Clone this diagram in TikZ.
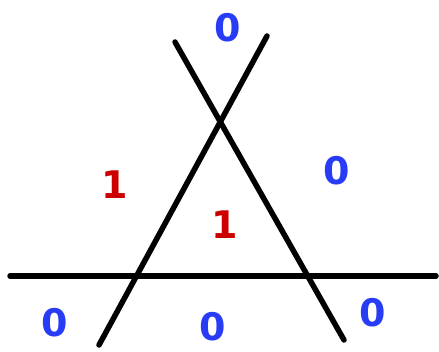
\documentclass[tikz,border=0pt]{standalone}
\usepackage{fontspec}
\setsansfont{DejaVu Sans}
\usepackage{tikz}
\usepackage{xcolor}
\definecolor{colZero}{RGB}{40,60,245}
\definecolor{colOne}{RGB}{205,0,0}

\begin{document}
\begin{tikzpicture}[
  x=1pt, y=-1pt,
  cut/.style={line width=5.5pt, line cap=round, black},
  lab/.style={font=\sffamily\bfseries\fontsize{38}{40}\selectfont, inner sep=0pt},
  zero/.style={lab, text=colZero},
  one/.style={lab, text=colOne},
]
\useasboundingbox (0,0) rectangle (439,352);

% end points of the three lines
\coordinate (fallTop) at (175,42);
\coordinate (fallBot) at (344,340);
\coordinate (riseTop) at (267,36);
\coordinate (riseBot) at (99,345);
\coordinate (horLeft) at (10,276);
\coordinate (horRight) at (436,276);

\draw[cut] (fallTop) -- (fallBot);
\draw[cut] (riseTop) -- (riseBot);
\draw[cut] (horLeft) -- (horRight);

% region labels
\node[zero] (zTop) at (228,28) {0};
\node[zero] (zRight) at (337,171) {0};
\node[zero] (zLeftBot) at (55,323) {0};
\node[zero] (zMidBot) at (213,327) {0};
\node[zero] (zRightBot) at (373,313) {0};
\node[one] (oLeft) at (115,185) {1};
\node[one] (oMid) at (225,225) {1};
\end{tikzpicture}
\end{document}
